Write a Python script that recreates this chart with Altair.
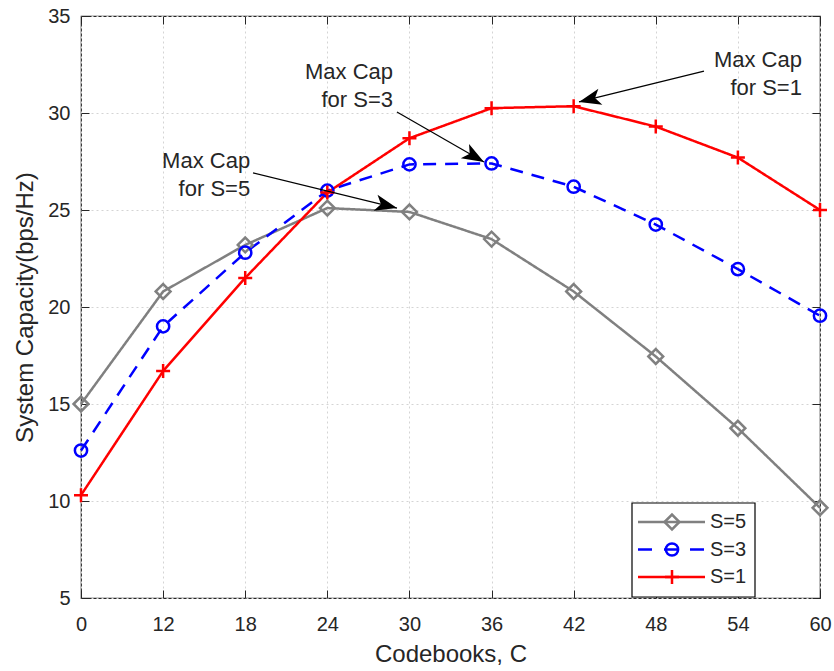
import math
import altair as alt
import pandas as pd

# ---------------- data ----------------
codebooks = [0, 12, 18, 24, 30, 36, 42, 48, 54, 60]
series_names = ["S=5", "S=3", "S=1"]
cap_s5 = [15.0, 20.8, 23.2, 25.1, 24.9, 23.5, 20.8, 17.45, 13.75, 9.65]
cap_s3 = [12.6, 19.0, 22.8, 26.0, 27.35, 27.4, 26.2, 24.25, 21.95, 19.55]
cap_s1 = [10.3, 16.7, 21.5, 25.9, 28.7, 30.25, 30.35, 29.3, 27.7, 25.0]
y_ticks = [5, 10, 15, 20, 25, 30, 35]

# annotations: label, text anchor (right edge, first line), arrow start, arrow tip
# (x in codebook-index units, y in bps/Hz)
ann_names = ["S=5", "S=3", "S=1"]
ann_text_x = [2.06, 3.80, 8.78]
ann_text_y = [27.53, 32.11, 32.73]
ann_arrow_x0 = [2.095, 3.848, 7.587]
ann_arrow_y0 = [26.91, 30.05, 32.16]
ann_arrow_x1 = [3.848, 4.908, 6.065]
ann_arrow_y1 = [25.10, 27.47, 30.57]

# ---------------- layout / style ----------------
W, H = 739, 582
FONT = "Liberation Sans"
AX = "#262626"
colors = {"S=5": "#808080", "S=3": "#0000ff", "S=1": "#ff0000"}
dashes = {"S=5": [1, 0], "S=3": [13, 9], "S=1": [1, 0]}
shapes = {"S=5": "diamond", "S=3": "circle", "S=1": "M-1,0H1M0,-1V1"}
msizes = {"S=5": 220, "S=3": 150, "S=1": 196}

values = {"S=5": cap_s5, "S=3": cap_s3, "S=1": cap_s1}
rows = []
for s in series_names:
    for i, v in enumerate(values[s]):
        rows.append({"idx": i, "C": codebooks[i], "cap": v, "series": s})
df = pd.DataFrame(rows)

xscale = alt.Scale(domain=[0, len(codebooks) - 1], nice=False, zero=False)
yscale = alt.Scale(domain=[5, 35], nice=False, zero=False)
label_expr = "[" + ",".join("'%d'" % c for c in codebooks) + "][datum.value]"
xvals = list(range(len(codebooks)))

main_x_axis = alt.Axis(values=xvals, labelExpr=label_expr, grid=True, gridDash=[2, 3],
                       gridColor="#d4d4d4", gridWidth=1, ticks=False, domain=False,
                       labelFontSize=20, labelColor=AX, labelFont=FONT, labelPadding=16,
                       labelFlush=False,
                       title="Codebooks, C", titleFontSize=24, titleFontWeight="normal",
                       titleColor=AX, titleFont=FONT, titlePadding=8)
main_y_axis = alt.Axis(values=y_ticks, grid=True, gridDash=[2, 3], gridColor="#d4d4d4",
                       gridWidth=1, ticks=False, domain=False, labelFontSize=20,
                       labelColor=AX, labelFont=FONT, labelPadding=11, labelFlush=False,
                       title="System Capacity(bps/Hz)", titleFontSize=24,
                       titleFontWeight="normal", titleColor=AX, titleFont=FONT,
                       titlePadding=10)


def tick_axis(orient, vals):
    return alt.Axis(orient=orient, values=vals, ticks=True, tickSize=8, tickColor=AX,
                    tickWidth=1, labels=False, domain=False, grid=False, title=None,
                    offset=-8)


layers = []
# axes layers (invisible marks)
layers.append(alt.Chart(df).mark_point(opacity=0).encode(
    x=alt.X("idx:Q", scale=xscale, axis=main_x_axis),
    y=alt.Y("cap:Q", scale=yscale, axis=main_y_axis)))
layers.append(alt.Chart(df).mark_point(opacity=0).encode(
    x=alt.X("idx:Q", scale=xscale, axis=tick_axis("bottom", xvals)),
    y=alt.Y("cap:Q", scale=yscale, axis=tick_axis("left", y_ticks))))
layers.append(alt.Chart(df).mark_point(opacity=0).encode(
    x=alt.X("idx:Q", scale=xscale, axis=tick_axis("top", xvals)),
    y=alt.Y("cap:Q", scale=yscale, axis=tick_axis("right", y_ticks))))

# series lines and markers
for s in series_names:
    d = df[df.series == s]
    layers.append(alt.Chart(d).mark_line(color=colors[s], strokeWidth=2.5,
                                         strokeDash=dashes[s]).encode(
        x=alt.X("idx:Q", scale=xscale, axis=None),
        y=alt.Y("cap:Q", scale=yscale, axis=None)))
for s in series_names:
    d = df[df.series == s]
    layers.append(alt.Chart(d).mark_point(shape=shapes[s], size=msizes[s], filled=False,
                                          color=colors[s], strokeWidth=2.5, opacity=1).encode(
        x=alt.X("idx:Q", scale=xscale, axis=None),
        y=alt.Y("cap:Q", scale=yscale, axis=None)))

# annotations
px_x = W / (len(codebooks) - 1)
px_y = H / (35 - 5)
arr = pd.DataFrame({
    "x0": ann_arrow_x0, "y0": ann_arrow_y0, "x1": ann_arrow_x1, "y1": ann_arrow_y1,
})
arr["angle"] = [
    math.degrees(math.atan2(-(b1 - b0) * px_y, (a1 - a0) * px_x)) % 360
    for a0, b0, a1, b1 in zip(ann_arrow_x0, ann_arrow_y0, ann_arrow_x1, ann_arrow_y1)
]
layers.append(alt.Chart(arr).mark_rule(color="black", strokeWidth=1.2).encode(
    x=alt.X("x0:Q", scale=xscale, axis=None), y=alt.Y("y0:Q", scale=yscale, axis=None),
    x2="x1:Q", y2="y1:Q"))
layers.append(alt.Chart(arr).mark_point(
    shape="M0,0L-2,-0.75L-1.5,0L-2,0.75Z", filled=True, color="black", size=484,
    opacity=1).encode(
    x=alt.X("x1:Q", scale=xscale, axis=None), y=alt.Y("y1:Q", scale=yscale, axis=None),
    angle=alt.Angle("angle:Q", scale=None)))

line_gap = 28 / px_y
txt_rows = []
for n, tx, ty in zip(ann_names, ann_text_x, ann_text_y):
    txt_rows.append({"x": tx, "y": ty, "t": "Max Cap"})
    txt_rows.append({"x": tx, "y": ty - line_gap, "t": "for " + n})
layers.append(alt.Chart(pd.DataFrame(txt_rows)).mark_text(
    align="right", baseline="middle", fontSize=22, font=FONT, color=AX).encode(
    x=alt.X("x:Q", scale=xscale, axis=None), y=alt.Y("y:Q", scale=yscale, axis=None),
    text="t:N"))

# legend (drawn box)
one = pd.DataFrame({"a": [0]})
LX0, LX1, LY0, LY1 = 551, 674, 487, 581
layers.append(alt.Chart(one).mark_rect(fill="white", stroke="black", strokeWidth=1.2).encode(
    x=alt.value(LX0), x2=alt.value(LX1), y=alt.value(LY0), y2=alt.value(LY1)))
leg_dash = {"S=5": [1, 0], "S=3": [14, 12], "S=1": [1, 0]}
for i, s in enumerate(series_names):
    ly = LY0 + 19 + i * 27.5
    layers.append(alt.Chart(one).mark_rule(color=colors[s], strokeWidth=2.5,
                                           strokeDash=leg_dash[s]).encode(
        x=alt.value(LX0 + 6), x2=alt.value(LX0 + 73), y=alt.value(ly)))
    layers.append(alt.Chart(one).mark_point(shape=shapes[s], size=msizes[s], filled=False,
                                            color=colors[s], strokeWidth=2.5, opacity=1).encode(
        x=alt.value(LX0 + 40), y=alt.value(ly)))
    layers.append(alt.Chart(one).mark_text(align="left", baseline="middle", fontSize=20,
                                           font=FONT, color=AX).encode(
        x=alt.value(LX0 + 78), y=alt.value(ly), text=alt.value(s)))

chart = alt.layer(*layers).resolve_axis(x="independent", y="independent").properties(
    width=W, height=H,
    autosize=alt.AutoSizeParams(type="none"),
    padding={"left": 81, "top": 16, "right": 14, "bottom": 73},
    background="white",
).configure_view(stroke=AX, strokeWidth=1.2)

chart.save("out.html", embed_options={"renderer": "svg", "actions": False})
